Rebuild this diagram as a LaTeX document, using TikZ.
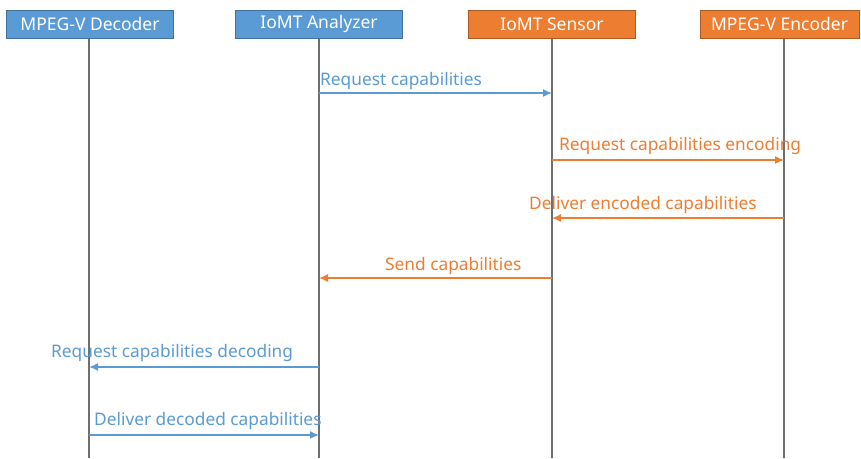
\documentclass[tikz,border=0pt]{standalone}
\usepackage{fontspec}
\setmainfont{Noto Sans}
\usetikzlibrary{arrows.meta}
\definecolor{bluefill}{HTML}{5B9BD5}
\definecolor{blueline}{HTML}{41719C}
\definecolor{orangefill}{HTML}{ED7D31}
\definecolor{orangeline}{HTML}{AE5A21}
\definecolor{lifegray}{HTML}{6F6F6F}
\tikzset{
  actor/.style={draw, line width=1pt, minimum width=167pt, minimum height=28pt, inner sep=0pt, text=white, font=\fontsize{17.5}{19}\selectfont},
  blueactor/.style={actor, fill=bluefill, draw=blueline},
  orangeactor/.style={actor, fill=orangefill, draw=orangeline},
  life/.style={draw=lifegray, line width=1.4pt},
  msg/.style={line width=1.5pt, -{Latex[length=9pt,width=8pt]}},
  bluemsg/.style={msg, draw=bluefill},
  orangemsg/.style={msg, draw=orangefill},
  lbl/.style={anchor=base west, inner sep=0pt, font=\fontsize{17.3}{19}\selectfont},
}
\begin{document}
\begin{tikzpicture}[x=1pt,y=-1pt]
\useasboundingbox[fill=white] (0,0) rectangle (861,458);
\node[blueactor] (dec) at (90,24) {MPEG-V Decoder};
\node[blueactor] (ana) at (319,24) {IoMT Analyzer};
\node[orangeactor] (sen) at (552,24) {IoMT Sensor};
\node[orangeactor, minimum width=159pt] (enc) at (779.5,24) {MPEG-V Encoder};
\coordinate (decb) at (89,458);
\coordinate (anab) at (319,458);
\coordinate (senb) at (552,458);
\coordinate (encb) at (784,458);
\draw[life] (dec.south -| decb) -- (decb);
\draw[life] (ana.south) -- (anab);
\draw[life] (sen.south) -- (senb);
\draw[life] (enc.south -| encb) -- (encb);
\draw[bluemsg] (ana |- 0,93) -- (sen |- 0,93);
\node[lbl, text=bluefill] (l1) at (320,85) {Request capabilities};
\draw[orangemsg] (sen |- 0,160) -- (encb |- 0,160);
\node[lbl, text=orangefill] (l2) at (559,150) {Request capabilities encoding};
\draw[orangemsg] (encb |- 0,218) -- (sen |- 0,218);
\node[lbl, text=orangefill] (l3) at (529,209) {Deliver encoded capabilities};
\draw[orangemsg] (sen |- 0,278) -- (ana |- 0,278);
\node[lbl, text=orangefill] (l4) at (385,270) {Send capabilities};
\draw[bluemsg] (ana |- 0,367) -- (decb |- 0,367);
\node[lbl, text=bluefill] (l5) at (51,357) {Request capabilities decoding};
\draw[bluemsg] (decb |- 0,435) -- (ana |- 0,435);
\node[lbl, text=bluefill] (l6) at (94,425) {Deliver decoded capabilities};
\end{tikzpicture}
\end{document}
